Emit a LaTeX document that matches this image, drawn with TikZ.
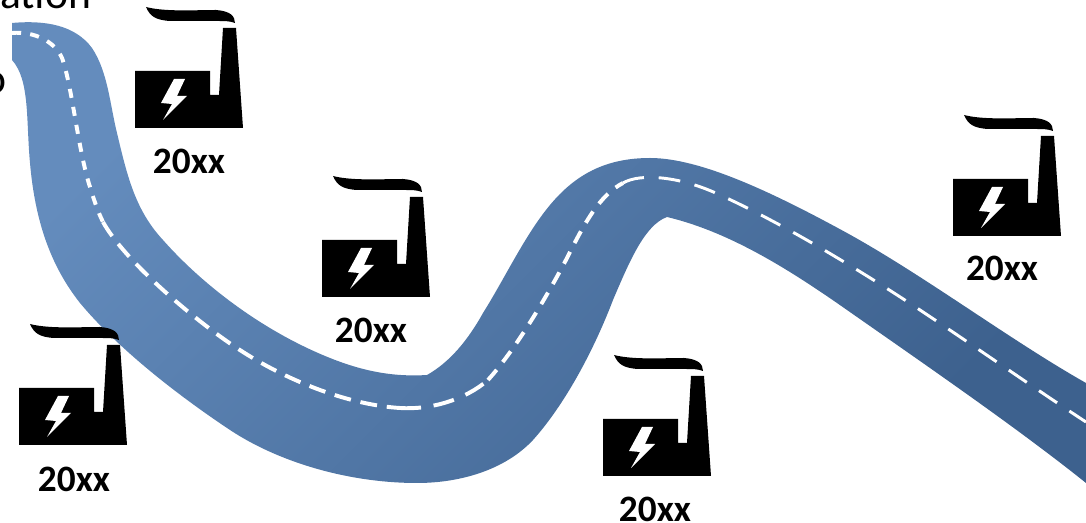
\documentclass[tikz,border=0pt]{standalone}
\usepackage{fontspec}
\setmainfont{Carlito}
\definecolor{roadlight}{HTML}{648CBD}
\definecolor{roadmid}{HTML}{4A70A0}
\definecolor{roaddark}{HTML}{3D618E}
\tikzset{
	year/.style={font=\fontsize{26.5}{30}\selectfont\bfseries, inner sep=0pt},
	cutoff/.style={font=\fontsize{31}{34}\selectfont, inner sep=0pt, anchor=base west},
	lane/.style={white, line width=2.8pt},
	factory/.pic={
		\fill[black] (0,0) -- (0,-57) -- (75,-57) -- (75,-33) -- (84,-33) -- (88,-100) -- (101,-100) -- (108,0) -- cycle;
		\fill[black] (11,-121) .. controls (15,-112) and (20,-108) .. (35,-107) -- (81,-107) .. controls (90,-107) and (95,-107) .. (100,-105) .. controls (100,-112) and (95,-117) .. (81,-118) .. controls (60,-118) and (30,-116) .. (11,-121) -- cycle;
		\fill[white] (39,-49) -- (50,-49) -- (42,-32) -- (52,-32) -- (28,-8) -- (37,-24) -- (26,-25) -- cycle;
	}
}
\begin{document}
\begin{tikzpicture}[x=0.025cm, y=-0.025cm]
	\useasboundingbox (0,0) rectangle (1086,523);
	% road
	\shade[left color=roadlight, middle color=roadmid, right color=roaddark, shading angle=45]
		(12,23) .. controls (45,20) and (75,25) .. (92,48)
		.. controls (108,72) and (110,105) .. (117,133)
		.. controls (127,175) and (135,210) .. (163,240)
		.. controls (200,282) and (260,330) .. (330,358)
		.. controls (365,372) and (395,377) .. (427,375)
		.. controls (450,362) and (468,340) .. (483,313)
		.. controls (505,278) and (525,235) .. (550,205)
		.. controls (575,175) and (605,158) .. (650,158)
		.. controls (700,158) and (772,192) .. (847,233)
		.. controls (925,276) and (1010,340) .. (1086,383)
		-- (1086,483)
		.. controls (1020,430) and (930,368) .. (847,310)
		.. controls (790,270) and (730,232) .. (667,217)
		.. controls (645,225) and (630,260) .. (613,300)
		.. controls (590,360) and (560,410) .. (533,440)
		.. controls (505,470) and (460,483) .. (417,483)
		.. controls (350,483) and (280,463) .. (230,430)
		.. controls (170,390) and (115,345) .. (80,303)
		.. controls (50,265) and (35,220) .. (30,163)
		.. controls (26,120) and (30,80) .. (12,60)
		-- cycle;
	\draw[lane, dash pattern=on 6.5pt off 6.5pt]
		(12,33) .. controls (35,31) and (55,42) .. (62,58) .. controls (72,85) and (78,150) .. (90,187) .. controls (94,200) and (98,212) .. (103,222);
	\draw[lane, dash pattern=on 12pt off 7pt]
		(103,222) .. controls (125,262) and (200,325) .. (243,352) .. controls (290,382) and (350,405) .. (400,408);
	\draw[lane, dash pattern=on 15pt off 9pt]
		(400,408) .. controls (430,410) and (465,400) .. (488,380);
	\draw[lane, dash pattern=on 9.5pt off 7pt]
		(488,380) .. controls (515,350) and (545,300) .. (567,258) .. controls (585,222) and (600,195) .. (623,183);
	\draw[lane, line width=2.1pt, dash pattern=on 15.5pt off 10.5pt]
		(623,183) .. controls (640,173) and (680,176) .. (720,195) .. controls (780,222) and (860,270) .. (923,312) .. controls (980,350) and (1040,392) .. (1086,422);
	% factories
	\pic at (135,128) {factory};
	\pic at (322,297) {factory};
	\pic at (19,445) {factory};
	\pic at (603,476) {factory};
	\pic at (953,236) {factory};
	% labels
	\node[year] (year1) at (189,161) {20xx};
	\node[year] (year2) at (371,330) {20xx};
	\node[year] (year3) at (74,479) {20xx};
	\node[year] (year4) at (655,509) {20xx};
	\node[year] (year5) at (1002,268) {20xx};
	% cut-off text
	\begin{scope}
		\clip (0,0) rectangle (1086,523);
		\node[cutoff] (title) at (0,9) {ation};
		\node[cutoff] (side) at (-17,94) {o};
	\end{scope}
\end{tikzpicture}
\end{document}
